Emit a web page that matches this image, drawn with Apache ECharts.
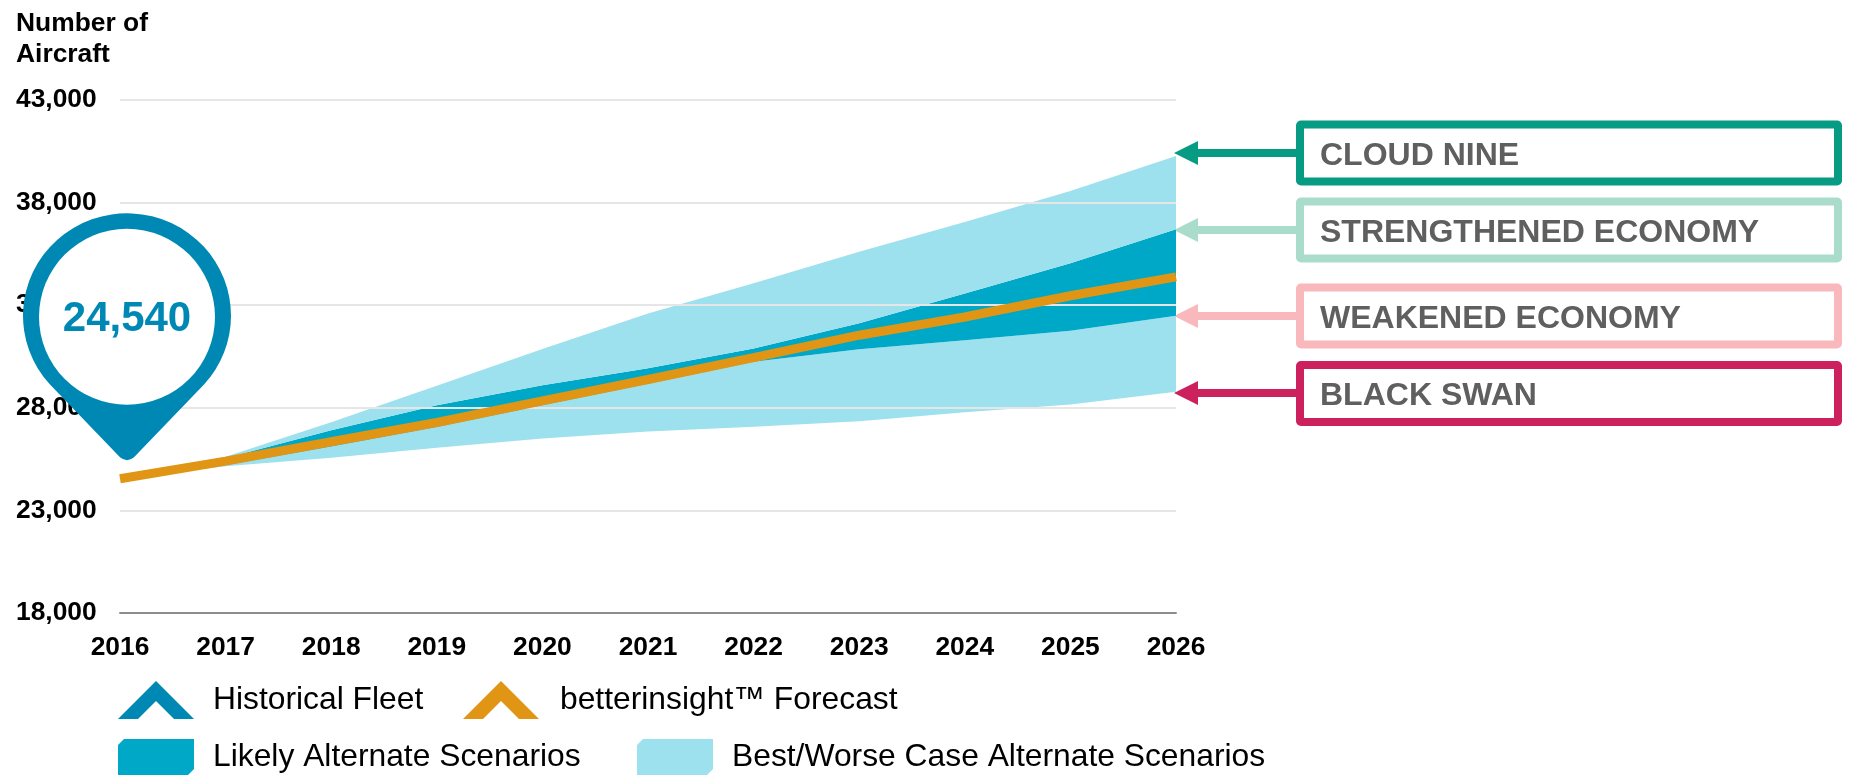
<!DOCTYPE html>
<html>
<head>
<meta charset="utf-8">
<style>
	html, body { margin: 0; padding: 0; background: #fff; }
	#chart { width: 1849px; height: 775px; }
</style>
<script src="https://cdn.jsdelivr.net/npm/echarts@6/dist/echarts.min.js"></script>
</head>
<body>
<div id="chart"></div>
<script>
	const years = ['2016', '2017', '2018', '2019', '2020', '2021', '2022', '2023', '2024', '2025', '2026'];
	const yTicks = [18000, 23000, 28000, 33000, 38000, 43000];
	const historical = [24540, null, null, null, null, null, null, null, null, null, null];
	const forecast = [24540, 25400, 26345, 27285, 28340, 29380, 30447, 31537, 32425, 33459, 34379];
	const cloudNine = [24540, 25620, 27300, 29080, 30860, 32600, 34073, 35600, 37057, 38569, 40276];
	const strengthened = [24540, 25550, 26910, 28130, 29100, 29930, 30886, 32122, 33569, 35049, 36707];
	const weakened = [24540, 25200, 26120, 27070, 28130, 29170, 30250, 30854, 31293, 31750, 32480];
	const blackSwan = [24540, 25150, 25560, 26050, 26500, 26850, 27081, 27350, 27780, 28160, 28780];

	const scenarioNames = ['CLOUD NINE', 'STRENGTHENED ECONOMY', 'WEAKENED ECONOMY', 'BLACK SWAN'];
	const scenarioColors = ['#079b83', '#a9dccb', '#f9b8bc', '#cc215c'];

	const FONT = '"Liberation Sans", Arial, sans-serif';
	const PIN = '#0088b4', ORANGE = '#e09614', DARK = '#00a8c8', LIGHT = '#9de0ee';
	const CHEVRON = 'path://M38 0 L76 38 L56 38 L38 20 L20 38 L0 38 Z';
	const SWATCH = 'path://M6 0 L76 0 L76 30 L70 36 L0 36 L0 6 Z';
	const PIN_PATH = 'path://M27 170 A104 104 0 1 1 181 170 L111 244 Q104 250 97 244 Z';

	// stacked bands, each one is the gap between two scenario lines
	function gap(upper, lower) {
		return upper.map((v, i) => v - lower[i]);
	}
	function band(name, data, color) {
		return {
			name: name,
			type: 'line',
			stack: 'scenarios',
			data: data,
			showSymbol: false,
			silent: true,
			z: 2,
			lineStyle: { width: 0 },
			itemStyle: { color: color },
			areaStyle: { color: color, opacity: color === 'transparent' ? 0 : 1 }
		};
	}
	function legendAt(name, icon, color, left, top, h, textGap) {
		return {
			left: left,
			top: top,
			padding: 0,
			selectedMode: false,
			itemWidth: 76,
			itemHeight: h,
			icon: icon,
			data: [{ name: name, itemStyle: { color: color } }],
			textStyle: { fontFamily: FONT, fontSize: 31.8, color: '#000', padding: [8, 0, 0, textGap] }
		};
	}

	// scenario boxes and arrows on the right
	const boxTops = [121.5, 198.5, 284.5, 362];
	const arrowYs = [153, 230, 316, 393];
	const graphic = [];
	scenarioNames.forEach((name, i) => {
		graphic.push({
			type: 'rect',
			shape: { x: 1300, y: boxTops[i] + 3, width: 538, height: 57, r: 1 },
			style: { fill: '#fff', stroke: scenarioColors[i], lineWidth: 8, lineJoin: 'round' }
		});
		graphic.push({
			type: 'text',
			style: {
				x: 1320, y: boxTops[i] + 34.5, text: name, fill: '#5f5f5f',
				font: 'bold 32px ' + FONT, textVerticalAlign: 'middle'
			}
		});
		graphic.push({
			type: 'polygon',
			shape: {
				points: [[1174, arrowYs[i]], [1198, arrowYs[i] - 12], [1198, arrowYs[i] - 4], [1297, arrowYs[i] - 4],
					[1297, arrowYs[i] + 4], [1198, arrowYs[i] + 4], [1198, arrowYs[i] + 12]]
			},
			style: { fill: scenarioColors[i] }
		});
	});

	const myChart = echarts.init(document.getElementById('chart'));
	myChart.setOption({
		animation: false,
		textStyle: { fontFamily: FONT },
		grid: { left: 120, right: 673, top: 100, bottom: 162 },
		legend: [
			legendAt('Historical Fleet', CHEVRON, PIN, 118, 681, 38, 14),
			legendAt('betterinsight™ Forecast', CHEVRON, ORANGE, 463, 681, 38, 16),
			legendAt('Likely Alternate Scenarios', SWATCH, DARK, 118, 739, 36, 14),
			legendAt('Best/Worse Case Alternate Scenarios', SWATCH, LIGHT, 637, 739, 36, 14)
		],
		xAxis: {
			type: 'category',
			boundaryGap: false,
			data: years,
			z: 4,
			axisTick: { show: false },
			axisLine: { lineStyle: { color: '#8c8c8c', width: 2 } },
			axisLabel: { margin: 22, fontSize: 26.4, fontWeight: 'bold', color: '#000', fontFamily: FONT, interval: 0 }
		},
		yAxis: {
			type: 'value',
			min: 18000,
			max: 43000,
			z: 3,
			name: 'Number of\nAircraft',
			nameGap: 30,
			nameTextStyle: {
				align: 'left', verticalAlign: 'bottom', fontSize: 26.4, fontWeight: 'bold',
				color: '#000', lineHeight: 31, fontFamily: FONT, padding: [0, 0, 0, -104]
			},
			axisLine: { show: false },
			axisTick: { show: false, customValues: yTicks },
			splitLine: { lineStyle: { color: '#e6e6e6', width: 2 } },
			axisLabel: {
				customValues: yTicks,
				align: 'left',
				margin: 104,
				padding: [4, 0, 0, 0],
				fontSize: 26.4,
				fontWeight: 'bold',
				color: '#000',
				fontFamily: FONT,
				formatter: v => v.toLocaleString('en-US')
			}
		},
		graphic: graphic,
		series: [
			band('base', blackSwan, 'transparent'),
			band('Best/Worse Case Alternate Scenarios', gap(weakened, blackSwan), LIGHT),
			band('Likely Alternate Scenarios', gap(strengthened, weakened), DARK),
			band('Best/Worse Case Alternate Scenarios', gap(cloudNine, strengthened), LIGHT),
			{
				name: 'betterinsight™ Forecast',
				type: 'line',
				data: forecast,
				showSymbol: false,
				z: 6,
				lineStyle: { color: ORANGE, width: 9, cap: 'butt' },
				itemStyle: { color: ORANGE }
			},
			{
				name: 'Historical Fleet',
				type: 'line',
				data: historical,
				showSymbol: false,
				z: 10,
				lineStyle: { color: PIN, width: 8 },
				itemStyle: { color: PIN },
				markPoint: {
					silent: true,
					data: [
						{
							coord: [years[0], historical[0]],
							symbol: PIN_PATH,
							symbolSize: [208, 247],
							symbolKeepAspect: false,
							symbolOffset: [7, -142],
							itemStyle: { color: PIN },
							label: { show: false }
						},
						{
							coord: [years[0], historical[0]],
							value: historical[0],
							symbol: 'circle',
							symbolSize: 176,
							symbolOffset: [7, -162],
							itemStyle: { color: '#fff' },
							label: {
								show: true,
								position: 'inside',
								offset: [0, 3],
								formatter: p => p.value.toLocaleString('en-US'),
								color: PIN,
								fontSize: 42,
								fontWeight: 'bold',
								fontFamily: FONT
							}
						}
					]
				}
			}
		]
	});
	window.addEventListener('resize', myChart.resize);
</script>
</body>
</html>
